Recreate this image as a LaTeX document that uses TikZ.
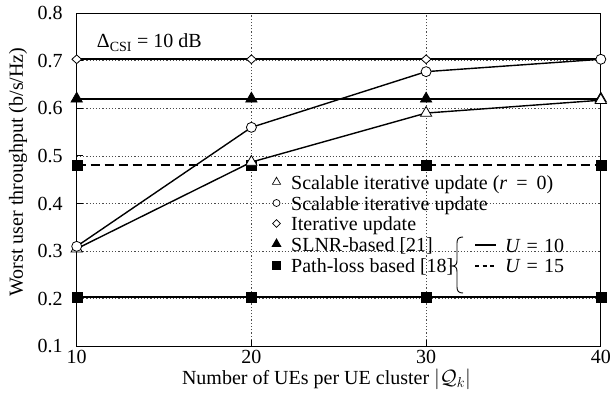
\documentclass[tikz,border=0pt]{standalone}
\usepackage{fontspec}
\setmainfont{Liberation Serif}
\usetikzlibrary{shapes.geometric}
\begin{document}
\begin{tikzpicture}[x=1pt,y=1pt,font=\fontsize{20}{24}\selectfont,
  gridline/.style={gray!60!black, line width=0.7pt, dash pattern=on 1.2pt off 2pt},
  frame/.style={line width=0.9pt},
  bench/.style={line width=2pt},
  benchdash/.style={line width=2pt, dash pattern=on 9pt off 5pt},
  curve/.style={line width=1.4pt},
  otri/.style={regular polygon, regular polygon sides=3, draw, fill=white, line width=0.8pt, inner sep=0pt, minimum size=13pt},
  ftri/.style={otri, fill=black},
  ocirc/.style={circle, draw, fill=white, line width=0.8pt, inner sep=0pt, minimum size=10pt},
  odiam/.style={diamond, draw, fill=white, line width=0.8pt, inner sep=0pt, minimum width=10pt, minimum height=9pt},
  fsq/.style={rectangle, draw, fill=black, inner sep=0pt, minimum size=10pt},
  lotri/.style={otri, minimum size=9.5pt, line width=0.7pt},
  lftri/.style={ftri, minimum size=10pt},
  locirc/.style={ocirc, minimum size=7pt, line width=0.7pt},
  lodiam/.style={odiam, minimum width=8pt, minimum height=8pt, line width=0.7pt},
  lfsq/.style={fsq, minimum size=8pt},
  legtext/.style={anchor=base west, inner sep=0pt},
  ticklab/.style={inner sep=0pt}
]
\useasboundingbox (0,0) rectangle (610,397);

\begin{scope}[x=17.47pt, y=476pt, shift={(-98pt,3.1pt)}]
  % grid
  \foreach \v in {0.2,0.3,0.4,0.5,0.6,0.7} \draw[gridline] (10,\v) -- (40,\v);
  \foreach \n in {20,30} \draw[gridline] (\n,0.1) -- (\n,0.8);
  % frame and ticks
  \draw[frame] (10,0.1) rectangle (40,0.8);
  \foreach \n in {20,30} \draw[frame] (\n,0.1) -- ++(0,6pt);
  \foreach \v in {0.2,0.3,0.4,0.5,0.6,0.7} \draw[frame] (10,\v) -- ++(6pt,0);
  % tick labels
  \foreach \v/\i in {0.1/1,0.2/2,0.3/3,0.4/4,0.5/5,0.6/6,0.7/7,0.8/8}
    \node[ticklab, anchor=east] (yt\i) at ([xshift=-14pt]10,\v) {\v};
  \foreach \n in {10,20,30,40}
    \node[ticklab, anchor=base] (xt\n) at ([yshift=-16.7pt]\n,0.1) {\n};

  % benchmark lines
  \draw[bench] (10,0.703) -- (40,0.703);
  \draw[bench] (10,0.62) -- (40,0.62);
  \draw[bench] (10,0.203) -- (40,0.203);
  \draw[benchdash] (10,0.48) -- (40,0.48);
  \foreach \n in {10,20,30,40} {
    \node[odiam] (it\n) at (\n,0.703) {};
    \node[ftri] (sl\n) at (\n,0.62) {};
    \node[fsq] (pa\n) at (\n,0.203) {};
    \node[fsq] (pb\n) at (\n,0.48) {};
  }

  % scalable r=0
  \draw[curve] (10,0.305) -- (20,0.487) -- (30,0.59) -- (40,0.617);
  \node[otri] (ra10) at (10,0.305) {};
  \node[otri] (ra20) at (20,0.487) {};
  \node[otri] (ra30) at (30,0.59) {};
  \node[otri] (ra40) at (40,0.617) {};
  % scalable
  \draw[curve] (10,0.31) -- (20,0.56) -- (30,0.677) -- (40,0.703);
  \node[ocirc] (sc10) at (10,0.31) {};
  \node[ocirc] (sc20) at (20,0.56) {};
  \node[ocirc] (sc30) at (30,0.677) {};
  \node[ocirc] (sc40) at (40,0.703) {};
\end{scope}

% axis titles
\node[anchor=base, inner sep=0pt] (xlab) at (326.5,13) {Number of UEs per UE cluster $|\mathcal{Q}_k|$};
\node[rotate=90, inner sep=0pt] (ylab) at (18,225) {Worst user throughput (b/s/Hz)};

% annotation
\node[legtext] (csi) at (96.7,349) {Δ\textsubscript{CSI} = 10 dB};

% legend
\node[lotri] (l1m) at (276.5,215) {};
\node[locirc] (l2m) at (276.5,194) {};
\node[lodiam] (l3m) at (276.5,173.5) {};
\node[lftri] (l4m) at (276.5,153) {};
\node[lfsq] (l5m) at (276.5,132) {};
\node[legtext] (l1t) at (291,208) {Scalable iterative update (\textit{r}\hspace{0.45em}=\hspace{0.45em}0)};
\node[legtext] (l2t) at (291,187) {Scalable iterative update};
\node[legtext] (l3t) at (291,166.5) {Iterative update};
\node[legtext] (l4t) at (291,146) {SLNR-based [21]};
\node[legtext] (l5t) at (291,125) {Path-loss based [18]};

% brace
\draw[line width=0.9pt] (463,160) .. controls (458.5,160) and (457,158) .. (457,154)
  -- (457,137) .. controls (457,133) and (456,131) .. (452,131)
  .. controls (456,131) and (457,129) .. (457,125)
  -- (457,110) .. controls (457,106) and (458.5,104) .. (463,104);
\coordinate (u1a) at (475,152);
\coordinate (u1b) at (496,152);
\coordinate (u2a) at (475,131);
\coordinate (u2b) at (497,131);
\draw[line width=1.3pt] (u1a) -- (u1b);
\draw[line width=1.3pt, dash pattern=on 4pt off 3.5pt] (u2a) -- (u2b);
\node[legtext] (u1t) at (505,145) {\textit{U}\hspace{0.3em}=\hspace{0.3em}10};
\node[legtext] (u2t) at (505,124.5) {\textit{U}\hspace{0.3em}=\hspace{0.3em}15};
\end{tikzpicture}
\end{document}
